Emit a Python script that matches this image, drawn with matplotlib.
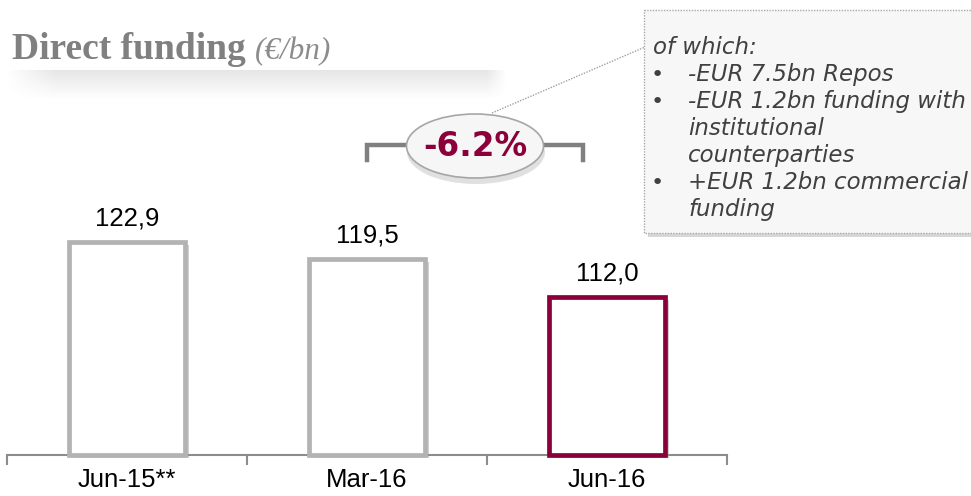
import numpy as np
import matplotlib
matplotlib.use("Agg")
import matplotlib.pyplot as plt
from matplotlib import patheffects as pe
from matplotlib.patches import Ellipse, Rectangle

# data
categories = ["Jun-15**", "Mar-16", "Jun-16"]
values = [122.9, 119.5, 112.0]
value_labels = ["122,9", "119,5", "112,0"]
change_label = "-6.2%"
note_lines = ["of which:",
              "-EUR 7.5bn Repos",
              "-EUR 1.2bn funding with",
              "institutional",
              "counterparties",
              "+EUR 1.2bn commercial",
              "funding"]
note_bullets = [False, True, True, False, False, True, False]

GREY = "#b3b3b3"
CRIMSON = "#8b003a"
AXIS = "#8c8c8c"

W, H = 971, 496
fig = plt.figure(figsize=(W / 100, H / 100), dpi=100)

# main bar axes
ymin = 80.7
ax = fig.add_axes([7 / W, (H - 455) / H, 720 / W, 355 / H])
ax.set_ylim(ymin, ymin + 355 / 5.05)
ax.set_xlim(-0.5, len(categories) - 0.5)

x = np.arange(len(categories))
edge = [GREY, GREY, CRIMSON]
heights = [v - ymin for v in values]
bars = ax.bar(x, heights, bottom=ymin, width=0.48, color="white",
              edgecolor=edge, linewidth=3.4, clip_on=False, zorder=3)
for b in bars:
    b.set_path_effects([pe.SimplePatchShadow(offset=(3, -2), shadow_rgbFace="#9a9a9a", alpha=0.45),
                        pe.Normal()])

for xi, v, lab in zip(x, values, value_labels):
    ax.annotate(lab, (xi, v), xytext=(0, 12), textcoords="offset points",
                ha="center", va="baseline", fontsize=18.5, family="Liberation Sans", color="black")

for s in ["top", "left", "right"]:
    ax.spines[s].set_visible(False)
ax.spines["bottom"].set_color(AXIS)
ax.spines["bottom"].set_linewidth(1.5)
ax.set_yticks([])
ax.set_xticks(x)
ax.set_xticklabels(categories, fontsize=18.5, family="Liberation Sans")
ax.tick_params(axis="x", which="major", length=0, pad=9.5)
ax.set_xticks(np.arange(-0.5, len(categories)), minor=True)
ax.tick_params(axis="x", which="minor", length=7, width=1.5, color=AXIS, direction="out")
ax.patch.set_visible(False)

# title
fig.text(12 / W, 1 - 59 / H, "Direct funding", fontsize=27, fontweight="bold",
         family="Liberation Serif", color="#808080", va="baseline")
fig.text(255 / W, 1 - 59 / H, "(€/bn)", fontsize=22.5, style="italic",
         family="Liberation Serif", color="#8c8c8c", va="baseline")

# soft band under title
band = fig.add_axes([5 / W, 1 - 100 / H, 502 / W, 30 / H])
vert = np.linspace(0.9, 1.0, 40)[:, None]
fade = np.minimum(1, np.linspace(0, 1, 200) * 10) * np.minimum(1, np.linspace(1, 0, 200) * 25)
img = 1 - (1 - vert) * fade[None, :]
band.imshow(img, cmap="gray", vmin=0, vmax=1, aspect="auto")
band.axis("off")

# overlay in pixel coordinates
ov = fig.add_axes([0, 0, 1, 1], zorder=5)
ov.set_xlim(0, W)
ov.set_ylim(H, 0)
ov.axis("off")
ov.patch.set_visible(False)

# callout box
ov.add_patch(Rectangle((648, 14), 330, 223, facecolor="#bdbdbd", edgecolor="none", alpha=0.6))
ov.add_patch(Rectangle((644, 10), 330, 223, facecolor="#f7f7f7", edgecolor="#a8a8a8",
                       linewidth=1, linestyle=(0, (1, 1))))
for i, (line, bullet) in enumerate(zip(note_lines, note_bullets)):
    y = 54 + 27 * i
    xt = 653 if i == 0 else 688
    ov.text(xt, y, line, fontsize=16.5, style="italic", family="DejaVu Sans",
            color="#404040", va="baseline")
    if bullet:
        ov.text(651, y, "•", fontsize=16, family="DejaVu Sans", color="#404040", va="baseline")

# leader line
ov.plot([492, 645], [113, 47], color="#a0a0a0", linewidth=1, linestyle=(0, (1, 1)))

# bracket
ov.plot([367, 367, 583, 583], [160, 145, 145, 160], color="#808080", linewidth=3.2,
        solid_joinstyle="miter", zorder=2)

# ellipse with change
ov.add_patch(Ellipse((476, 152), 138, 64, facecolor="#9a9a9a", edgecolor="none", alpha=0.3, zorder=3))
ov.add_patch(Ellipse((475, 146), 137, 64, facecolor="#f6f6f6", edgecolor="#a6a6a6",
                     linewidth=1.2, zorder=4))
ov.text(475, 147, change_label, fontsize=23.5, fontweight="bold", family="DejaVu Sans",
        color=CRIMSON, ha="center", va="center", zorder=5)

fig.savefig("out.png", dpi=100)
